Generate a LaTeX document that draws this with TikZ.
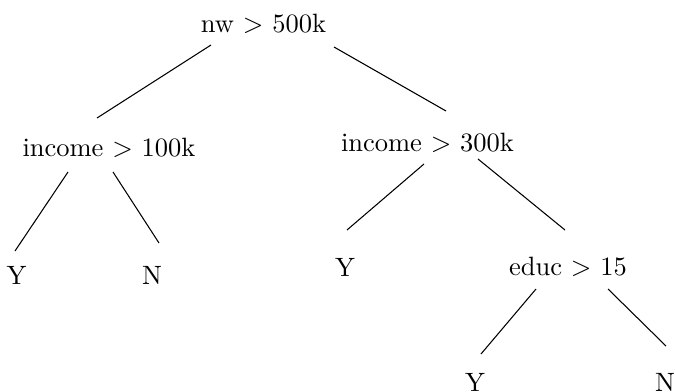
\documentclass[tikz,border=0pt]{standalone}
\begin{document}
\begin{tikzpicture}[x=0.37736pt,y=-0.37736pt,
  lbl/.style={anchor=base,inner sep=0pt},
  edge/.style={draw=black,line width=0.4pt}]
\useasboundingbox (0,0) rectangle (675,391);
\node[lbl] (root) at (263.5,32) {nw $>$ 500k};
\node[lbl] (inc1) at (109,156) {income $>$ 100k};
\node[lbl] (inc2) at (427.5,151) {income $>$ 300k};
\node[lbl] (y1) at (16.5,284) {Y};
\node[lbl] (n1) at (152,284) {N};
\node[lbl] (y2) at (345,276) {Y};
\node[lbl] (educ) at (568,275) {educ $>$ 15};
\node[lbl] (y3) at (475,391) {Y};
\node[lbl] (n3) at (665,391) {N};
\draw[edge] ([shift={(-52.5,13)}]root.base) -- ([shift={(-12,-38)}]inc1.base);
\draw[edge] ([shift={(70.5,15)}]root.base) -- ([shift={(18.5,-40)}]inc2.base);
\draw[edge] ([shift={(-41,16)}]inc1.base) -- ([shift={(-1.5,-33)}]y1.base);
\draw[edge] ([shift={(4,16)}]inc1.base) -- ([shift={(7,-41)}]n1.base);
\draw[edge] ([shift={(-3.5,13)}]inc2.base) -- ([shift={(2,-46)}]y2.base);
\draw[edge] ([shift={(50.5,8)}]inc2.base) -- ([shift={(-3,-45)}]educ.base);
\draw[edge] ([shift={(-32,14)}]educ.base) -- ([shift={(6,-37)}]y3.base);
\draw[edge] ([shift={(40,14)}]educ.base) -- ([shift={(1,-45)}]n3.base);
\end{tikzpicture}
\end{document}
